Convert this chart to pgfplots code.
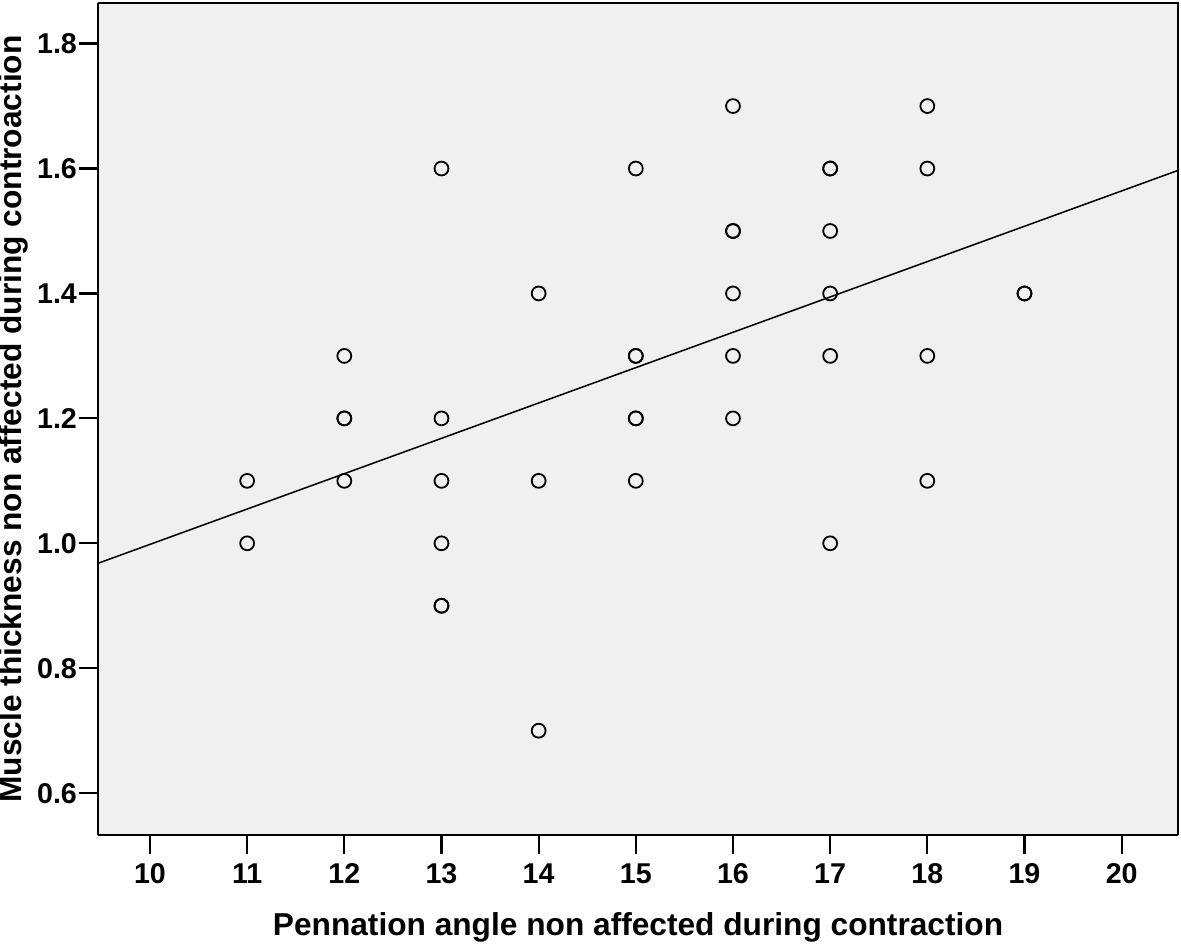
\documentclass[border=0pt]{standalone}
\usepackage{pgfplots}
\pgfplotsset{compat=1.18}
\usepackage{fontspec}
\setmainfont{Liberation Sans}
\definecolor{spssbg}{RGB}{240,240,240}

\begin{document}
\begin{tikzpicture}[x=1pt,y=1pt]
\begin{axis}[
    at={(0,0)}, anchor=south west,
    width=388.8pt, height=299.52pt,
    scale only axis,
    xmin=9.465, xmax=20.58,
    ymin=0.533, ymax=1.865,
    xtick={10,11,...,20},
    ytick={0.6,0.8,1.0,1.2,1.4,1.6,1.8},
    yticklabel style={/pgf/number format/fixed, /pgf/number format/fixed zerofill, /pgf/number format/precision=1},
    /pgf/number format/assume math mode=true,
    tick align=outside,
    major tick length=6.8pt,
    tick style={black, line width=0.8pt},
    axis line style={black, line width=0.8pt},
    axis x line*=bottom, axis y line*=left,
    axis background/.style={fill=spssbg},
    ticklabel style={font=\bfseries\fontsize{10.3}{12}\selectfont},
    xticklabel style={anchor=base, yshift=-10.5pt},
    yticklabel style={anchor=east, inner sep=0pt, xshift=-0.6pt},
    xlabel={Pennation angle non affected during contraction},
    ylabel={Muscle thickness non affected during controaction},
    label style={font=\bfseries\fontsize{11.4}{13}\selectfont},
    xlabel style={at={(rel axis cs:0.5,0)}, anchor=center, yshift=-33.3pt},
    ylabel style={at={(rel axis cs:0,0.5)}, anchor=center, yshift=30.5pt},
    clip=true,
]
% regression line
\addplot[black, line width=0.55pt] coordinates {(9.465,0.968) (20.58,1.597)};
% observations (duplicates listed twice)
\addplot[only marks, mark=o, mark size=2.5pt, mark options={black, line width=0.65pt}] coordinates {
(11,1.1) (11,1.0)
(12,1.3) (12,1.2) (12,1.2) (12,1.1)
(13,1.6) (13,1.2) (13,1.1) (13,1.0) (13,0.9) (13,0.9)
(14,1.4) (14,1.1) (14,0.7)
(15,1.6) (15,1.3) (15,1.3) (15,1.2) (15,1.2) (15,1.1)
(16,1.7) (16,1.5) (16,1.5) (16,1.4) (16,1.3) (16,1.2)
(17,1.6) (17,1.6) (17,1.5) (17,1.4) (17,1.3) (17,1.0)
(18,1.7) (18,1.6) (18,1.3) (18,1.1)
(19,1.4) (19,1.4)
};
\end{axis}
% top and right frame
\draw[black, line width=0.8pt] (0,299.52) -- (388.8,299.52) -- (388.8,0);
\pgfresetboundingbox
\path[use as bounding box] (-35.28,-39.96) rectangle (389.88,300.6);
\end{tikzpicture}
\end{document}
